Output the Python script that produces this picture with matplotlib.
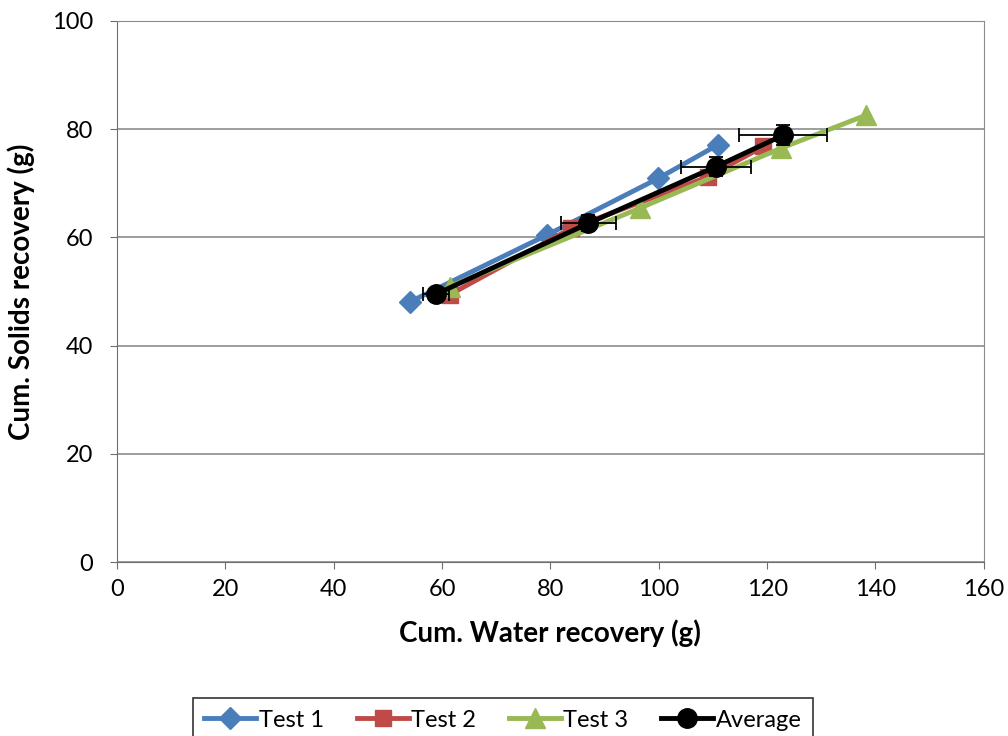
import numpy as np
import matplotlib.pyplot as plt

plt.rcParams['font.family'] = ['Lato', 'DejaVu Sans']

# cumulative water (x) and solids (y) recovery, grams
test1_x = [54.1, 79.3, 99.9, 110.9]
test1_y = [48.1, 60.4, 70.9, 77.1]
test2_x = [61.4, 83.9, 109.1, 119.3]
test2_y = [49.4, 61.7, 71.2, 76.8]
test3_x = [61.4, 96.5, 122.6, 138.3]
test3_y = [50.9, 65.4, 76.5, 82.6]
avg_x = [58.9, 87.0, 110.6, 123.0]
avg_y = [49.5, 62.6, 73.1, 78.9]
avg_xerr = [2.4, 5.1, 6.4, 8.1]
avg_yerr = [0.8, 1.5, 1.8, 1.9]

fig = plt.figure(figsize=(10.08, 7.36), dpi=100)
ax = fig.add_axes([0.116, 0.2364, 0.86, 0.7351])

ax.plot(test1_x, test1_y, color='#4a7ebb', lw=3.5, marker='D', ms=11, label='Test 1', zorder=3)
ax.plot(test2_x, test2_y, color='#be4b48', lw=3.5, marker='s', ms=12, label='Test 2', zorder=3)
ax.plot(test3_x, test3_y, color='#98b954', lw=3.5, marker='^', ms=14, label='Test 3', zorder=3)
ax.errorbar(avg_x, avg_y, xerr=avg_xerr, yerr=avg_yerr, fmt='none', ecolor='black',
            elinewidth=1.3, capsize=5, capthick=1.3, zorder=4)
ax.plot(avg_x, avg_y, color='black', lw=3.5, marker='o', ms=14, label='Average', zorder=5)

ax.set_xlim(0, 160)
ax.set_ylim(0, 100)
ax.set_xticks(np.arange(0, 161, 20))
ax.set_yticks(np.arange(0, 101, 20))
ax.yaxis.grid(True, color='#8c8c8c', lw=1.2)
ax.set_axisbelow(True)
for s in ['top', 'right']:
    ax.spines[s].set_color('#8c8c8c')
for s in ['left', 'bottom']:
    ax.spines[s].set_color('#6e6e6e')
ax.tick_params(labelsize=17, direction='out', length=5, color='#6e6e6e')
ax.tick_params(axis='y', pad=12)
ax.tick_params(axis='x', pad=7)

ax.set_xlabel('Cum. Water recovery (g)', fontsize=20, fontweight='bold', labelpad=14)
ax.set_ylabel('Cum. Solids recovery (g)', fontsize=20, fontweight='bold', labelpad=12)

leg = fig.legend(loc='upper center', bbox_to_anchor=(0.499, 0.068), ncol=4,
                 fontsize=17, frameon=True, fancybox=False, edgecolor='black',
                 handlelength=2.2, columnspacing=1.4, handletextpad=0.1,
                 borderpad=0.5)
leg.get_frame().set_linewidth(1.2)

fig.savefig('out.png', dpi=100)
